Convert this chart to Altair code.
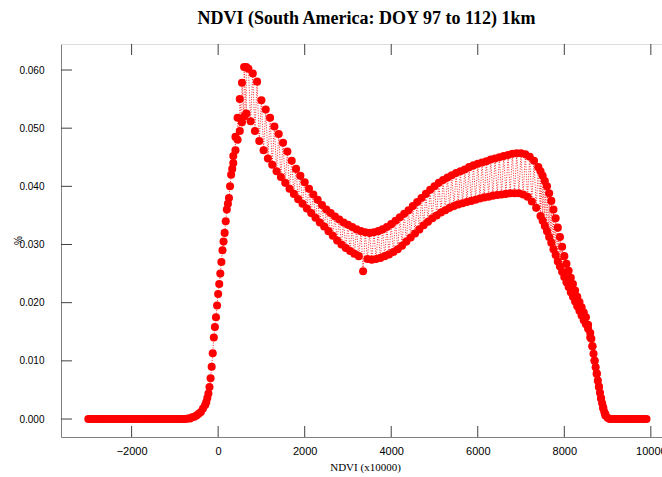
import altair as alt
import pandas as pd

# NDVI bins (x10000) for the upper and lower envelopes of the zig-zag histogram
ndvi_hi = list(range(-3000, 10000, 100))
pct_hi = [
    0.0, 0.0, 0.0, 0.0, 0.0, 0.0, 0.0, 0.0, 0.0, 0.0, 0.0, 0.0, 0.0, 0.0, 0.0, 0.0, 0.0, 0.0, 0.0, 0.0, 0.0, 0.0, 0.0,
    0.0001, 0.0003, 0.0006, 0.0012, 0.0024, 0.0055, 0.0140,
    0.0215, 0.0290, 0.0360, 0.0420, 0.0485, 0.0550, 0.0605, 0.0602, 0.0594, 0.0580,
    0.0548, 0.0532, 0.0518, 0.0503, 0.0490, 0.0475, 0.0460, 0.0444, 0.0430, 0.0418,
    0.0407, 0.0396, 0.0386, 0.0377, 0.0368, 0.0360, 0.0354, 0.0348, 0.0343, 0.0338,
    0.0334, 0.0330, 0.0326, 0.0323, 0.0321, 0.0320, 0.0321, 0.0323, 0.0326, 0.0330,
    0.0335, 0.0341, 0.0347, 0.0353, 0.0359, 0.0366, 0.0373, 0.0380, 0.0387, 0.0394,
    0.0400, 0.0406, 0.0411, 0.0415, 0.0419, 0.0423, 0.0426, 0.0429, 0.0433, 0.0436,
    0.0439, 0.0441, 0.0443, 0.0446, 0.0448, 0.0450, 0.0452, 0.0454, 0.0456, 0.0457,
    0.0457, 0.0455, 0.0451, 0.0444, 0.0433, 0.0418, 0.0400, 0.0375, 0.0345, 0.0313,
    0.0280, 0.0255, 0.0232, 0.0210, 0.0192, 0.0175, 0.0148, 0.0100, 0.0055, 0.0018,
    0.0002,
    0.0, 0.0, 0.0, 0.0, 0.0, 0.0, 0.0, 0.0, 0.0,
]
ndvi_lo = list(range(-2950, 9900, 100))
pct_lo = [
    0.0, 0.0, 0.0, 0.0, 0.0, 0.0, 0.0, 0.0, 0.0, 0.0, 0.0, 0.0, 0.0, 0.0, 0.0, 0.0, 0.0, 0.0, 0.0, 0.0, 0.0, 0.0, 0.0,
    0.0001, 0.0004, 0.0009, 0.0018, 0.0036, 0.0090, 0.0175,
    0.0250, 0.0320, 0.0380, 0.0440, 0.0480, 0.0510, 0.0525, 0.0512, 0.0495, 0.0478,
    0.0462, 0.0448, 0.0437, 0.0426, 0.0416, 0.0406, 0.0396, 0.0387, 0.0378, 0.0370,
    0.0362, 0.0354, 0.0346, 0.0338, 0.0331, 0.0323, 0.0315, 0.0307, 0.0300, 0.0294,
    0.0289, 0.0284, 0.0280, 0.0254, 0.0275, 0.0274, 0.0275, 0.0277, 0.0280, 0.0283,
    0.0287, 0.0292, 0.0298, 0.0305, 0.0312, 0.0319, 0.0326, 0.0333, 0.0339, 0.0345,
    0.0350, 0.0355, 0.0359, 0.0363, 0.0366, 0.0369, 0.0371, 0.0373, 0.0375, 0.0377,
    0.0379, 0.0381, 0.0382, 0.0384, 0.0385, 0.0386, 0.0387, 0.0388, 0.0388, 0.0388,
    0.0386, 0.0382, 0.0374, 0.0363, 0.0349, 0.0332, 0.0313, 0.0292, 0.0271, 0.0253,
    0.0235, 0.0218, 0.0202, 0.0186, 0.0170, 0.0155, 0.0125, 0.0078, 0.0035, 0.0006,
    0.0, 0.0, 0.0, 0.0, 0.0, 0.0, 0.0, 0.0, 0.0,
]
# extra bins read on the steep flanks (rise near 0, fall near 8000-9000)
ndvi_ex = [-275, -225, -175, -125, -75, -25, 25, 75, 125, 175, 225, 275, 325,
           350, 400, 450, 500, 550, 600, 650,
           7450, 7500, 7550, 7600, 7650, 7700, 7750, 7800, 7850, 7900, 7950, 8000,
           8050, 8100, 8150, 8200, 8250, 8300, 8350, 8400, 8450, 8500, 8550, 8600,
           8650, 8700, 8750, 8800, 8850, 8900, 8950,
           8625, 8675, 8725, 8775, 8825, 8875, 8925]
pct_ex = [0.0029, 0.0044, 0.0070, 0.0113, 0.0158, 0.0195, 0.0232, 0.0270, 0.0305, 0.0340, 0.0370, 0.0400, 0.0430,
          0.0452, 0.0462, 0.0518, 0.0495, 0.0578, 0.0520, 0.0605,
          0.0426, 0.0341, 0.0409, 0.0323, 0.0388, 0.0303, 0.0360, 0.0282, 0.0329, 0.0262, 0.0296, 0.0244,
          0.0267, 0.0227, 0.0243, 0.0210, 0.0221, 0.0194, 0.0201, 0.0178, 0.0183, 0.0163, 0.0162, 0.0140,
          0.0125, 0.0100, 0.0078, 0.0056, 0.0036, 0.0020, 0.0008,
          0.0138, 0.0112, 0.0089, 0.0066, 0.0045, 0.0027, 0.0012]

x_ticks = [-2000, 0, 2000, 4000, 6000, 8000, 10000]
y_ticks = [0.0, 0.01, 0.02, 0.03, 0.04, 0.05, 0.06]

rows = sorted(list(zip(ndvi_hi, pct_hi)) + list(zip(ndvi_lo, pct_lo)) + list(zip(ndvi_ex, pct_ex)))
df = pd.DataFrame(rows, columns=["ndvi", "pct"])
xt = pd.DataFrame({"ndvi": x_ticks})
yt = pd.DataFrame({"pct": y_ticks})

W, H = 601, 393
xs = alt.Scale(domain=[-3632, 10258], nice=False, zero=False)
ys = alt.Scale(domain=[-0.00309, 0.06447], nice=False, zero=False)

xax = alt.Axis(values=x_ticks, format="d", tickSize=0, labelPadding=8, labelFontSize=11,
               labelFont="Liberation Sans", labelColor="#000000", domainColor="#808080",
               grid=False, title="NDVI (x10000)", titleFont="Liberation Serif",
               titleFontSize=11, titleFontWeight="normal", titleColor="#000000",
               titleX=304, titleY=33, titleBaseline="alphabetic", labelFlush=False,
               labelOverlap=False)
yax = alt.Axis(values=y_ticks, format=".3f", tickSize=0, labelPadding=17, labelFontSize=10,
               labelFont="Liberation Sans", labelColor="#000000", domainColor="#808080",
               grid=False, title="%", titleFont="Liberation Sans", titleFontSize=10,
               titleFontWeight="normal", titleColor="#000000", titleAngle=270,
               titleX=-43, titleY=196, titleBaseline="middle", labelOverlap=False)

X = alt.X("ndvi:Q", scale=xs, axis=xax)
Y = alt.Y("pct:Q", scale=ys, axis=yax)

line = alt.Chart(df).mark_line(color="#ff0000", strokeWidth=1, strokeDash=[1, 1.5],
                               opacity=0.85).encode(x=X, y=Y)
pts = alt.Chart(df).mark_circle(color="#ff0000", size=65, opacity=1).encode(x=X, y=Y)

tick_col = "#404040"
xb = alt.Chart(xt).mark_rule(color=tick_col, strokeWidth=1).encode(
    x=X, y=alt.value(H), y2=alt.value(H - 11))
xtop = alt.Chart(xt).mark_rule(color=tick_col, strokeWidth=1).encode(
    x=X, y=alt.value(0), y2=alt.value(11))
yl = alt.Chart(yt).mark_rule(color=tick_col, strokeWidth=1).encode(
    y=Y, x=alt.value(0), x2=alt.value(11))

chart = alt.layer(line, pts, xb, xtop, yl).properties(
    width=W, height=H,
    autosize="none",
    padding={"left": 61, "top": 44, "right": 0, "bottom": 40},
    title=alt.TitleParams(text="NDVI (South America: DOY 97 to 112) 1km",
                          font="Liberation Serif", fontSize=18, fontWeight="bold",
                          color="#000000", anchor="middle", offset=2,
                          baseline="alphabetic", dx=5),
).configure_view(stroke="#000000", strokeWidth=1).configure(background="white")

chart.save("out.html", embed_options={"renderer": "svg", "actions": False})
